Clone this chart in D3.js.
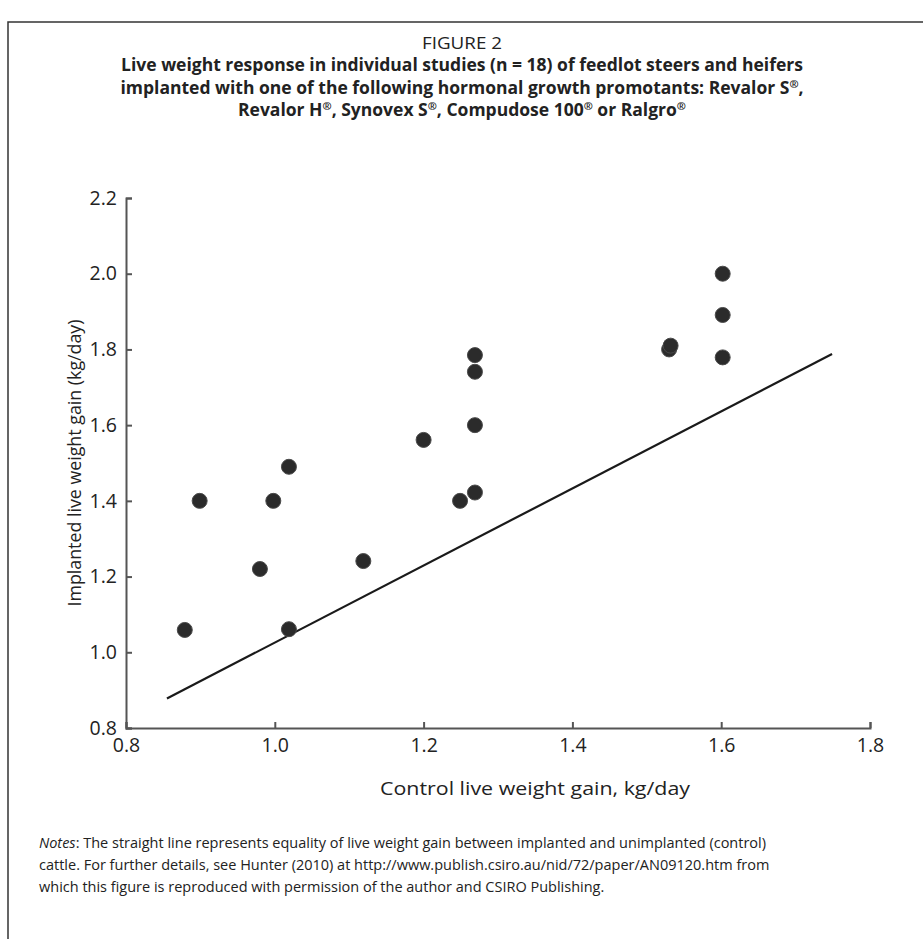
<!DOCTYPE html>
<html>
<head>
<meta charset="utf-8">
<script src="https://cdn.jsdelivr.net/npm/d3@7"></script>
<style>
  body { margin: 0; background: #fff; }
  svg { display: block; font-family: "Open Sans", "Noto Sans", sans-serif; }
</style>
</head>
<body>
<svg id="chart" width="923" height="939"></svg>
<script>
// control gain (x) vs implanted gain (y), kg/day
const controlGain = [0.879, 0.899, 0.998, 1.019, 0.980, 1.019, 1.119, 1.200, 1.269, 1.269, 1.269, 1.269, 1.249, 1.530, 1.532, 1.602, 1.602, 1.602];
const implantGain = [1.059, 1.400, 1.400, 1.490, 1.220, 1.061, 1.241, 1.561, 1.785, 1.741, 1.600, 1.422, 1.400, 1.800, 1.810, 2.000, 1.891, 1.779];
// the "equality" line as drawn
const lineX = [0.855, 1.749];
const lineY = [0.878, 1.788];
const xTicks = [0.8, 1.0, 1.2, 1.4, 1.6, 1.8];
const yTicks = [0.8, 1.0, 1.2, 1.4, 1.6, 1.8, 2.0, 2.2];

// title pieces, "®" parts get superscripted
const titleLines = [
  ["Live weight response in individual studies (n = 18) of feedlot steers and heifers"],
  ["implanted with one of the following hormonal growth promotants: Revalor S", "®", ","],
  ["Revalor H", "®", ", Synovex S", "®", ", Compudose 100", "®", " or Ralgro", "®"]
];
const noteLines = [
  "The straight line represents equality of live weight gain between implanted and unimplanted (control)",
  "cattle. For further details, see Hunter (2010) at http://www.publish.csiro.au/nid/72/paper/AN09120.htm from",
  "which this figure is reproduced with permission of the author and CSIRO Publishing."
];

const svg = d3.select("#chart");

// frame
svg.append("rect")
  .attr("x", 8).attr("y", 22)
  .attr("width", 940).attr("height", 940)
  .attr("fill", "none")
  .attr("stroke", "#333")
  .attr("stroke-width", 1.5);

svg.append("text")
  .attr("x", 462).attr("y", 49)
  .attr("text-anchor", "middle")
  .attr("font-size", 17)
  .attr("textLength", 80)
  .attr("lengthAdjust", "spacingAndGlyphs")
  .attr("fill", "#222")
  .text("FIGURE 2");

const titles = svg.selectAll(".title")
  .data(titleLines)
  .enter().append("text")
  .attr("class", "title")
  .attr("x", 462)
  .attr("y", (d, i) => 71 + i * 22.5)
  .attr("text-anchor", "middle")
  .attr("font-size", 17.5)
  .attr("font-weight", "bold")
  .attr("fill", "#222");

titles.selectAll("tspan")
  .data(d => d)
  .enter().append("tspan")
  .attr("font-size", d => d === "®" ? 11 : null)
  .attr("dy", (d, i, n) => d === "®" ? -6 : (i > 0 && n[i - 1].__data__ === "®" ? 6 : null))
  .text(d => d);

const x = d3.scaleLinear().domain([0.8, 1.8]).range([126, 870]);
const y = d3.scaleLinear().domain([0.8, 2.2]).range([728, 198]);

const xAxis = svg.append("g")
  .attr("transform", "translate(0,728)")
  .call(d3.axisBottom(x).tickValues(xTicks).tickFormat(d3.format(".1f")).tickSize(-6).tickPadding(10));

const yAxis = svg.append("g")
  .attr("transform", "translate(126,0)")
  .call(d3.axisLeft(y).tickValues(yTicks).tickFormat(d3.format(".1f")).tickSize(-6).tickPadding(9));

[xAxis, yAxis].forEach(g => {
  g.attr("font-family", null);
  g.select(".domain").attr("stroke", "#555").attr("stroke-width", 2);
  g.selectAll(".tick line").attr("stroke", "#555").attr("stroke-width", 2);
  g.selectAll(".tick text")
    .style("font-size", "19.5px")
    .attr("fill", "#222");
});

// equality line
svg.append("line")
  .attr("x1", x(lineX[0])).attr("y1", y(lineY[0]))
  .attr("x2", x(lineX[1])).attr("y2", y(lineY[1]))
  .attr("stroke", "#1a1a1a")
  .attr("stroke-width", 2.2);

svg.selectAll(".pt")
  .data(controlGain.map((c, i) => [c, implantGain[i]]))
  .enter().append("circle")
  .attr("class", "pt")
  .attr("cx", d => x(d[0]))
  .attr("cy", d => y(d[1]))
  .attr("r", 7.5)
  .attr("fill", "#2b2b2b")
  .attr("stroke", "#4a4a4a")
  .attr("stroke-width", 1);

svg.append("text")
  .attr("transform", "translate(81,463) rotate(-90)")
  .attr("text-anchor", "middle")
  .attr("font-size", 17.5)
  .attr("textLength", 287)
  .attr("lengthAdjust", "spacingAndGlyphs")
  .attr("fill", "#222")
  .text("Implanted live weight gain (kg/day)");

svg.append("text")
  .attr("x", 535).attr("y", 795)
  .attr("text-anchor", "middle")
  .attr("font-size", 19)
  .attr("textLength", 310)
  .attr("lengthAdjust", "spacingAndGlyphs")
  .attr("fill", "#222")
  .text("Control live weight gain, kg/day");

const notes = svg.selectAll(".note")
  .data(noteLines)
  .enter().append("text")
  .attr("class", "note")
  .attr("x", 39)
  .attr("y", (d, i) => 848 + i * 22)
  .attr("font-size", 14.5)
  .attr("fill", "#222");

notes.filter((d, i) => i === 0).append("tspan")
  .attr("font-style", "italic")
  .text("Notes");
notes.filter((d, i) => i === 0).append("tspan").text(": ");
notes.append("tspan").text(d => d);
</script>
</body>
</html>
